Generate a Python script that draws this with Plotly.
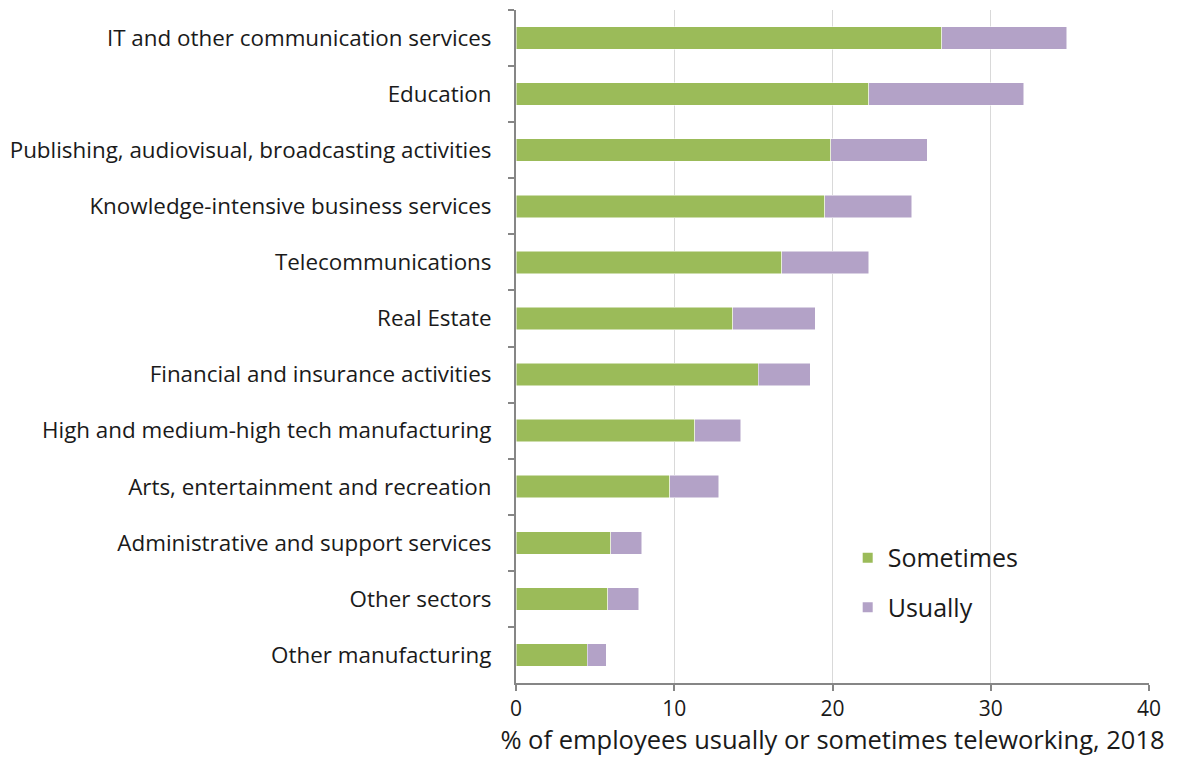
import plotly.graph_objs as go

sectors = [
    "IT and other communication services",
    "Education",
    "Publishing, audiovisual, broadcasting activities",
    "Knowledge-intensive business services",
    "Telecommunications",
    "Real Estate",
    "Financial and insurance activities",
    "High and medium-high tech manufacturing",
    "Arts, entertainment and recreation",
    "Administrative and support services",
    "Other sectors",
    "Other manufacturing",
]
sometimes = [26.9, 22.3, 19.9, 19.5, 16.8, 13.7, 15.3, 11.3, 9.7, 6.0, 5.8, 4.5]
usually = [7.9, 9.8, 6.1, 5.5, 5.5, 5.2, 3.3, 2.9, 3.1, 1.95, 1.95, 1.2]

font_family = "Open Sans, Noto Sans, sans-serif"

fig = go.Figure()
fig.add_trace(go.Bar(y=sectors, x=sometimes, name="Sometimes", orientation="h",
                     legendgroup="a",
                     marker=dict(color="#9BBB59", line=dict(color="white", width=0.5))))
fig.add_trace(go.Bar(y=sectors, x=usually, name="Usually", orientation="h",
                     legendgroup="b",
                     marker=dict(color="#B3A2C7", line=dict(color="white", width=0.5))))

# page body adds an 8px offset, margins compensate for it
fig.update_layout(
    width=1179, height=765,
    barmode="stack", bargap=0.6,
    plot_bgcolor="white", paper_bgcolor="white",
    margin=dict(l=508, r=38, t=2, b=90, autoexpand=False),
    font=dict(family=font_family, size=21, color="#1a1a1a"),
    showlegend=True,
    legend=dict(x=0.524, y=0.22, xanchor="left", yanchor="top",
                traceorder="grouped", font=dict(size=25), itemsizing="constant",
                tracegroupgap=14, bgcolor="rgba(0,0,0,0)"),
)
fig.update_xaxes(
    range=[0, 40], dtick=10, showgrid=True, gridcolor="#D9D9D9", gridwidth=1,
    showline=True, linecolor="#868686", linewidth=2,
    ticks="outside", ticklen=6, tickcolor="#868686", tickwidth=2,
    zeroline=False,
    title=dict(text="% of employees usually or sometimes teleworking, 2018",
               font=dict(size=25.5), standoff=10),
    tickfont=dict(size=21),
)
fig.update_yaxes(
    autorange="reversed", showline=True, linecolor="#868686", linewidth=2,
    ticks="outside", ticklen=6, tickcolor="#868686", tickwidth=2,
    tickson="boundaries", showgrid=False, ticklabelstandoff=18,
    tickfont=dict(size=22.4),
)

fig.write_html("out.html")
